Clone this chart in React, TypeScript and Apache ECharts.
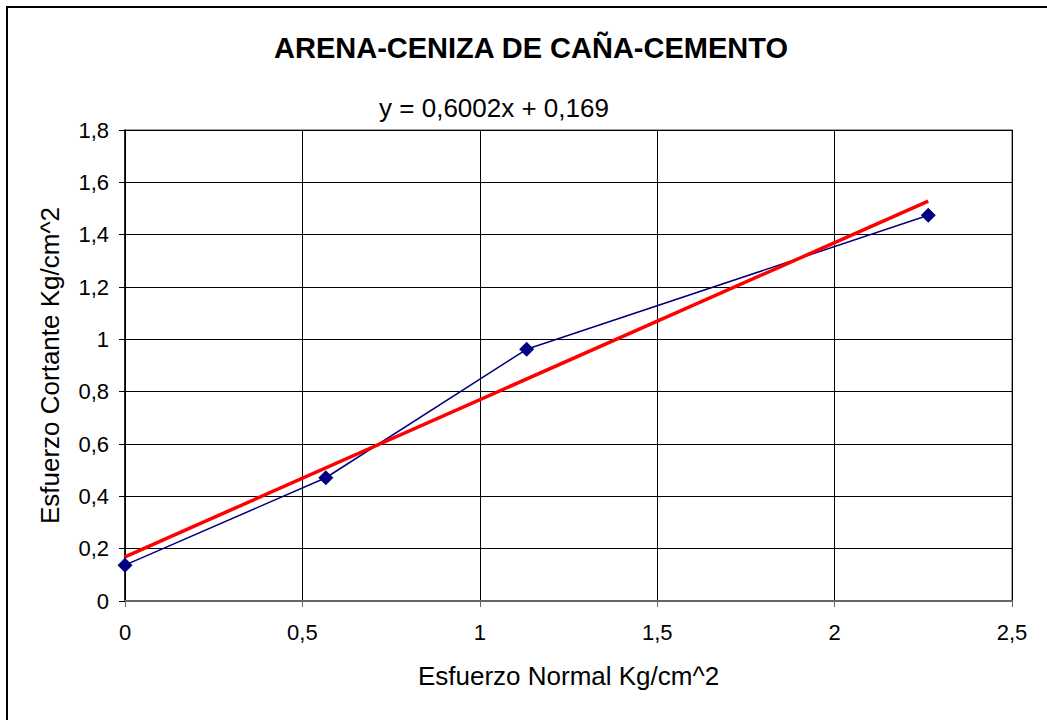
import React, { useEffect, useRef } from "react";
import * as echarts from "echarts";

const normalStress = [0, 0.566, 1.132, 2.264];
const shearStress = [0.137, 0.471, 0.962, 1.474];
const slope = 0.6002;
const intercept = 0.169;
const xTicks = [0, 0.5, 1, 1.5, 2, 2.5];
const yTicks = [0, 0.2, 0.4, 0.6, 0.8, 1, 1.2, 1.4, 1.6, 1.8];

const fmt = (v: number) => String(v).replace(".", ",");
const FONT = "Liberation Sans, Arial, sans-serif";

export default function App() {
  const ref = useRef<HTMLDivElement>(null);
  useEffect(() => {
    document.body.style.margin = "0";
    const chart = echarts.init(ref.current!, null, { renderer: "svg" });
    const xMax = normalStress[normalStress.length - 1];
    const trend = [
      [0, intercept],
      [xMax, slope * xMax + intercept],
    ];
    chart.setOption({
      animation: false,
      backgroundColor: "#ffffff",
      textStyle: { fontFamily: FONT },
      title: [
        {
          text: "ARENA-CENIZA DE CAÑA-CEMENTO",
          left: 526,
          top: 28,
          textAlign: "center",
          textStyle: { fontSize: 29, fontWeight: "bold", color: "#000", fontFamily: FONT },
        },
        {
          text: "y = 0,6002x + 0,169",
          left: 489,
          top: 90,
          textAlign: "center",
          textStyle: { fontSize: 26, fontWeight: "normal", color: "#000", fontFamily: FONT },
        },
      ],
      graphic: [
        {
          type: "rect",
          shape: { x: 7, y: 7, width: 1100, height: 800 },
          style: { fill: "none", stroke: "#000", lineWidth: 2 },
          silent: true,
        },
      ],
      grid: { left: 125, right: 35, top: 130, bottom: 119, show: true, borderColor: "#888", borderWidth: 1.5 },
      xAxis: {
        type: "value",
        min: xTicks[0],
        max: xTicks[xTicks.length - 1],
        interval: 0.5,
        name: "Esfuerzo Normal Kg/cm^2",
        nameLocation: "middle",
        nameGap: 62,
        nameTextStyle: { fontSize: 26, color: "#000" },
        axisLine: { show: true, onZero: false, lineStyle: { color: "#666", width: 2 } },
        axisTick: { show: true, inside: false, length: 6, lineStyle: { color: "#666" } },
        axisLabel: { fontSize: 22, color: "#000", margin: 20, formatter: (v: number) => fmt(v) },
        splitLine: { show: true, lineStyle: { color: "#000", width: 1 } },
      },
      yAxis: {
        type: "value",
        min: yTicks[0],
        max: yTicks[yTicks.length - 1],
        interval: 0.2,
        name: "Esfuerzo Cortante Kg/cm^2",
        nameLocation: "middle",
        nameGap: 62,
        nameTextStyle: { fontSize: 26, color: "#000" },
        axisLine: { show: true, onZero: false, lineStyle: { color: "#000", width: 1.5 } },
        axisTick: { show: true, inside: false, length: 6, lineStyle: { color: "#000" } },
        axisLabel: { fontSize: 22, color: "#000", margin: 16, formatter: (v: number) => fmt(Math.round(v * 10) / 10) },
        splitLine: { show: true, lineStyle: { color: "#000", width: 1 } },
      },
      series: [
        {
          type: "line",
          data: normalStress.map((x, i) => [x, shearStress[i]]),
          symbol: "diamond",
          symbolSize: 15,
          itemStyle: { color: "#000080" },
          lineStyle: { color: "#000080", width: 1.5 },
          z: 3,
        },
        {
          type: "line",
          data: trend,
          symbol: "none",
          lineStyle: { color: "#ff0000", width: 3.5 },
          z: 4,
        },
      ],
    });
    return () => chart.dispose();
  }, []);
  return <div ref={ref} style={{ width: 1047, height: 720 }} />;
}
